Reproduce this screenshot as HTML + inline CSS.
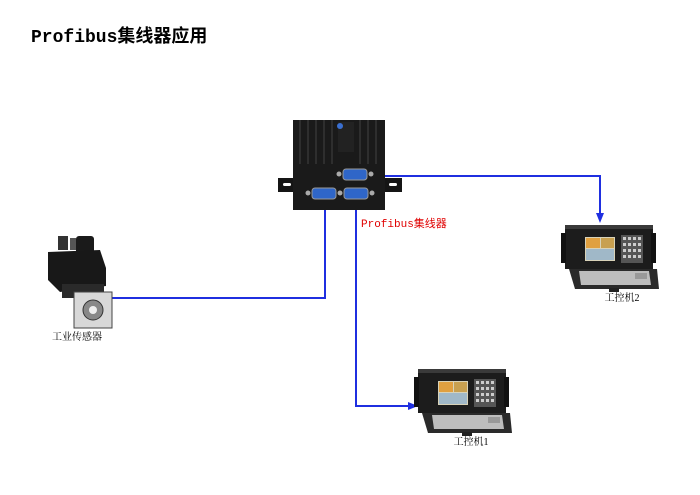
<!DOCTYPE html>
<html><head><meta charset="utf-8"><style>
html,body{margin:0;padding:0;background:#fff;}
body{width:700px;height:495px;position:relative;overflow:hidden;}
svg{position:absolute;left:0;top:0;}
</style></head><body>
<svg width="700" height="495" viewBox="0 0 700 495" xmlns="http://www.w3.org/2000/svg">
<defs>
<g id="pc">
  <!-- body -->
  <rect x="0" y="0" width="88" height="44" fill="#1c1c1c"/>
  <rect x="0" y="0" width="88" height="4" fill="#3a3a3a"/>
  <rect x="-4" y="8" width="5" height="30" fill="#111"/>
  <rect x="86" y="8" width="5" height="30" fill="#111"/>
  <rect x="20" y="12" width="30" height="24" fill="#d8d2b8"/>
  <rect x="21" y="13" width="14" height="10" fill="#e0a040"/>
  <rect x="36" y="13" width="13" height="10" fill="#c8a050"/>
  <rect x="21" y="24" width="28" height="11" fill="#a0b8c8"/>
  <rect x="56" y="10" width="22" height="28" fill="#555"/>
  <g fill="#ccc"><rect x="58" y="12" width="3" height="3"/><rect x="63" y="12" width="3" height="3"/><rect x="68" y="12" width="3" height="3"/><rect x="73" y="12" width="3" height="3"/><rect x="58" y="18" width="3" height="3"/><rect x="63" y="18" width="3" height="3"/><rect x="68" y="18" width="3" height="3"/><rect x="73" y="18" width="3" height="3"/><rect x="58" y="24" width="3" height="3"/><rect x="63" y="24" width="3" height="3"/><rect x="68" y="24" width="3" height="3"/><rect x="73" y="24" width="3" height="3"/><rect x="58" y="30" width="3" height="3"/><rect x="63" y="30" width="3" height="3"/><rect x="68" y="30" width="3" height="3"/><rect x="73" y="30" width="3" height="3"/></g>
  <!-- tray -->
  <polygon points="4,44 92,44 94,64 10,64" fill="#2a2a2a"/>
  <polygon points="14,46 84,46 86,60 16,60" fill="#bdbdbd"/>
  <rect x="70" y="48" width="12" height="6" fill="#999"/>
  <rect x="44" y="63" width="10" height="4" fill="#222"/>
</g>
</defs>

<text x="31" y="42" font-family="'Liberation Mono','Noto Sans CJK SC',monospace" font-weight="bold" font-size="18" fill="#000">Profibus集线器应用</text>

<!-- connectors -->
<g stroke="#1f2fe0" stroke-width="2" fill="none">
  <polyline points="112,298 325,298 325,192"/>
  <polyline points="372,176 600,176 600,216"/>
  <polyline points="356,192 356,406 410,406"/>
</g>
<g fill="#1f2fe0">
  <polygon points="325,183 321,193 329,193"/>
  <polygon points="600,223 596,213 604,213"/>
  <polygon points="418,406 408,402 408,410"/>
</g>

<!-- hub -->
<rect x="278" y="178" width="124" height="14" fill="#151515"/>
<rect x="283" y="183" width="8" height="3" rx="1.5" fill="#fff"/>
<rect x="389" y="183" width="8" height="3" rx="1.5" fill="#fff"/>
<rect x="293" y="120" width="92" height="90" fill="#1a1a1a"/>
<g stroke="#2e2e2e" stroke-width="2">
  <line x1="300" y1="120" x2="300" y2="164"/><line x1="308" y1="120" x2="308" y2="164"/><line x1="316" y1="120" x2="316" y2="164"/><line x1="324" y1="120" x2="324" y2="164"/><line x1="332" y1="120" x2="332" y2="164"/><line x1="360" y1="120" x2="360" y2="164"/><line x1="368" y1="120" x2="368" y2="164"/><line x1="376" y1="120" x2="376" y2="164"/>
</g>
<rect x="338" y="122" width="16" height="30" fill="#222"/>
<circle cx="340" cy="126" r="3" fill="#3a6fd0"/>
<g fill="#2f66c8" stroke="#999" stroke-width="1">
  <rect x="343" y="169" width="24" height="11" rx="3"/>
  <rect x="312" y="188" width="24" height="11" rx="3"/>
  <rect x="344" y="188" width="24" height="11" rx="3"/>
</g>
<g fill="#aaa"><circle cx="339" cy="174" r="2.5"/><circle cx="371" cy="174" r="2.5"/><circle cx="308" cy="193" r="2.5"/><circle cx="340" cy="193" r="2.5"/><circle cx="372" cy="193" r="2.5"/></g>
<text x="361" y="227" font-family="'Liberation Mono','Noto Sans CJK SC',monospace" font-size="11" fill="#e00000">Profibus集线器</text>

<!-- sensor / motor -->
<rect x="58" y="236" width="10" height="14" fill="#333"/>
<rect x="70" y="238" width="6" height="12" fill="#555"/>
<rect x="76" y="236" width="18" height="20" rx="3" fill="#1a1a1a"/>
<polygon points="48,252 100,250 106,268 106,286 60,292 48,280" fill="#181818"/>
<rect x="62" y="284" width="42" height="14" fill="#2a2a2a"/>
<rect x="74" y="292" width="38" height="36" fill="#d8d8d8" stroke="#444"/>
<circle cx="93" cy="310" r="10" fill="#888" stroke="#333"/>
<circle cx="93" cy="310" r="4" fill="#eee"/>
<text x="77" y="340" text-anchor="middle" font-family="'Liberation Serif','Noto Serif CJK SC',serif" font-size="10" fill="#000">工业传感器</text>

<!-- PCs -->
<use href="#pc" x="565" y="225"/>
<text x="622" y="301" text-anchor="middle" font-family="'Liberation Serif','Noto Serif CJK SC',serif" font-size="10" fill="#000">工控机2</text>
<use href="#pc" x="418" y="369"/>
<text x="471" y="445" text-anchor="middle" font-family="'Liberation Serif','Noto Serif CJK SC',serif" font-size="10" fill="#000">工控机1</text>
</svg>
</body></html>
